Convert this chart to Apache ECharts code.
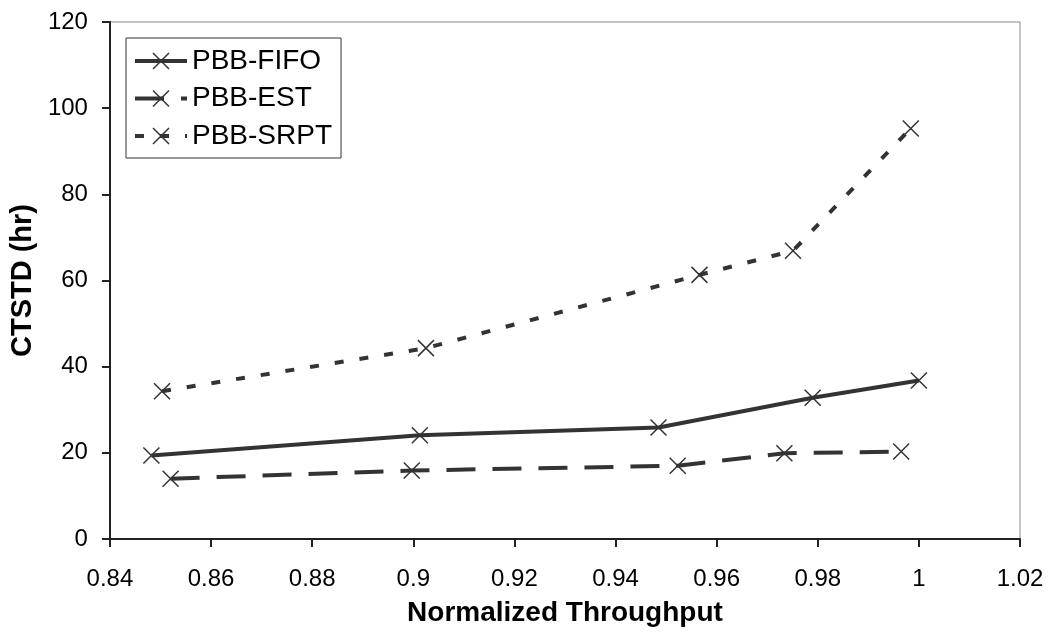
<!DOCTYPE html>
<html>
<head>
<meta charset="utf-8">
<script src="https://cdn.jsdelivr.net/npm/echarts@6/dist/echarts.min.js"></script>
<style>
  html, body { margin: 0; padding: 0; background: #fff; }
  #chart { width: 1055px; height: 632px; }
</style>
</head>
<body>
<div id="chart"></div>
<script>
// values
var fifoX = [0.8482, 0.9013, 0.9485, 0.979, 1.0]
var fifoY = [19.4, 24.1, 25.9, 32.8, 36.8]
var estX = [0.852, 0.8997, 0.9523, 0.9734, 0.9965]
var estY = [14.0, 15.9, 17.0, 19.9, 20.3]
var srptX = [0.8503, 0.9025, 0.9566, 0.9751, 0.9984]
var srptY = [34.3, 44.3, 61.3, 66.9, 95.3]
var seriesNames = ['PBB-FIFO', 'PBB-EST', 'PBB-SRPT']
var dashes = ['solid', [29, 17], [9, 16]]

function pairs(xs, ys) {
  return xs.map(function (x, i) {
    return [x, ys[i]]
  })
}

var cross = 'path://M0,0L10,10M10,0L0,10'
var font = 'Liberation Sans, Arial, sans-serif'

function makeSeries(name, data, dash) {
  return {
    name: name,
    type: 'line',
    data: data,
    symbol: cross,
    symbolSize: 16,
    itemStyle: { color: '#333', borderColor: '#333', borderWidth: 1.5 },
    lineStyle: { color: '#333', width: 4, type: dash, cap: 'butt' },
    emphasis: { disabled: true },
    z: 3,
  }
}

var myChart = echarts.init(document.getElementById('chart'))
myChart.setOption({
  animation: false,
  textStyle: { fontFamily: font, color: '#000' },
  grid: {
    left: 105,
    right: 35,
    top: 22,
    bottom: 89,
    show: true,
    borderColor: '#888',
    borderWidth: 1,
  },
  legend: {
    left: 126,
    top: 38,
    orient: 'vertical',
    data: seriesNames.map(function (n, i) {
      return {
        name: n,
        lineStyle: { color: '#333', width: 4, type: dashes[i], cap: 'butt' },
        itemStyle: { color: '#333', borderColor: '#333', borderWidth: 1.5 },
      }
    }),
    backgroundColor: '#fff',
    borderColor: '#333',
    borderWidth: 1,
    borderRadius: 0,
    padding: [9, 9, 8, 7],
    itemWidth: 52,
    itemHeight: 20,
    itemGap: 9.5,
    textStyle: { fontSize: 28, color: '#000', fontFamily: font, lineHeight: 28 },
  },
  xAxis: {
    type: 'value',
    min: 0.84,
    max: 1.02,
    interval: 0.02,
    name: 'Normalized Throughput',
    nameLocation: 'middle',
    nameGap: 60,
    nameTextStyle: { fontSize: 28, fontWeight: 'bold', color: '#000' },
    axisLine: { show: true, onZero: false, lineStyle: { color: '#222', width: 2 } },
    axisTick: { show: true, length: 8, lineStyle: { color: '#222', width: 2 } },
    axisLabel: {
      fontSize: 24,
      color: '#000',
      margin: 28,
      formatter: function (v) {
        return String(+v.toFixed(2))
      },
    },
    splitLine: { show: false },
  },
  yAxis: {
    type: 'value',
    min: 0,
    max: 120,
    interval: 20,
    name: 'CTSTD (hr)',
    nameLocation: 'middle',
    nameGap: 63,
    nameTextStyle: { fontSize: 29, fontWeight: 'bold', color: '#000' },
    axisLine: { show: true, lineStyle: { color: '#222', width: 2 } },
    axisTick: { show: true, length: 8, lineStyle: { color: '#222', width: 2 } },
    axisLabel: { fontSize: 24, color: '#000', margin: 22 },
    splitLine: { show: false },
  },
  series: [
    makeSeries(seriesNames[0], pairs(fifoX, fifoY), dashes[0]),
    makeSeries(seriesNames[1], pairs(estX, estY), dashes[1]),
    makeSeries(seriesNames[2], pairs(srptX, srptY), dashes[2]),
  ],
})
</script>
</body>
</html>
